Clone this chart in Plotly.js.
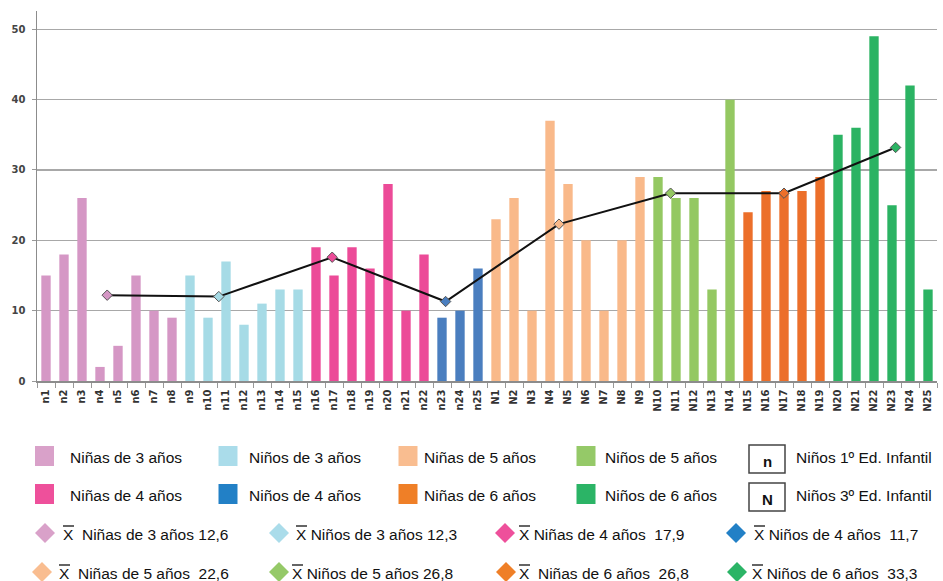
<!DOCTYPE html>
<html>
<head>
<meta charset="utf-8">
<script src="https://cdn.plot.ly/plotly-3.0.1.min.js"></script>
<style>
html,body{margin:0;padding:0;background:#fff;}
#chart{width:943px;height:581px;}
</style>
</head>
<body>
<div id="chart"></div>
<script>
// ---------- DATA ----------
const groupNames = ["Niñas de 3 años", "Niños de 3 años", "Niñas de 4 años", "Niños de 4 años",
                    "Niñas de 5 años", "Niños de 5 años", "Niñas de 6 años", "Niños de 6 años"];

const catNinas3 = ["n1","n2","n3","n4","n5","n6","n7","n8"];
const valNinas3 = [15, 18, 26, 2, 5, 15, 10, 9];

const catNinos3 = ["n9","n10","n11","n12","n13","n14","n15"];
const valNinos3 = [15, 9, 17, 8, 11, 13, 13];

const catNinas4 = ["n16","n17","n18","n19","n20","n21","n22"];
const valNinas4 = [19, 15, 19, 16, 28, 10, 18];

const catNinos4 = ["n23","n24","n25"];
const valNinos4 = [9, 10, 16];

const catNinas5 = ["N1","N2","N3","N4","N5","N6","N7","N8","N9"];
const valNinas5 = [23, 26, 10, 37, 28, 20, 10, 20, 29];

const catNinos5 = ["N10","N11","N12","N13","N14"];
const valNinos5 = [29, 26, 26, 13, 40];

const catNinas6 = ["N15","N16","N17","N18","N19"];
const valNinas6 = [24, 27, 27, 27, 29];

const catNinos6 = ["N20","N21","N22","N23","N24","N25"];
const valNinos6 = [35, 36, 49, 25, 42, 13];

// mean line: position along the category scale (0 = n1 ... 49 = N25) and plotted value
const meanPos = [3.4, 9.6, 15.9, 22.2, 28.5, 34.7, 41.0, 47.2];
const meanVal = [12.2, 12.0, 17.6, 11.3, 22.3, 26.7, 26.7, 33.2];
const meanLabels = ["Niñas de 3 años 12,6", "Niños de 3 años 12,3", "Niñas de 4 años  17,9", "Niños de 4 años  11,7",
                    "Niñas de 5 años  22,6", "Niños de 5 años 26,8", "Niñas de 6 años  26,8", "Niños de 6 años  33,3"];

const boxLabels = ["n", "N"];
const boxTexts = ["Niños 1º Ed. Infantil", "Niños 3º Ed. Infantil"];

// ---------- STYLE ----------
const barColors = ["#d597c5", "#a6dbe6", "#ec4b98", "#4a7ebf", "#f9b98a", "#94c862", "#ec6f2a", "#2bb363"];
const legColors = ["#d9a1c9", "#aadcea", "#ee509b", "#2280c6", "#f9bd90", "#95c968", "#ef7f27", "#2bb466"];

const groupCats = [catNinas3, catNinos3, catNinas4, catNinos4, catNinas5, catNinos5, catNinas6, catNinos6];
const groupVals = [valNinas3, valNinos3, valNinas4, valNinos4, valNinas5, valNinos5, valNinas6, valNinos6];
const allCats = [].concat(...groupCats);

const traces = groupCats.map((c, i) => ({
  type: "bar", x: c, y: groupVals[i], name: groupNames[i],
  marker: {color: barColors[i], line: {width: 0}},
  xaxis: "x", yaxis: "y", hoverinfo: "x+y"
}));

traces.push({
  type: "scatter", mode: "lines+markers", x: meanPos, y: meanVal,
  xaxis: "x2", yaxis: "y",
  line: {color: "#111", width: 2},
  marker: {symbol: "diamond", size: 8, color: barColors, line: {color: "#555", width: 1}},
  showlegend: false
});

// ---------- LEGEND (custom, pixel positions converted to paper) ----------
const L = 37, R = 937, T = 11, B = 381;
const px = x => (x - L) / (R - L);
const py = y => (B - y) / (B - T);

const shapes = [];
const annotations = [];
const legFont = {family: "Liberation Sans, Arial, sans-serif", size: 15.5, color: "#111"};

// squares rows
const sqRows = [[0, 1, 4, 5], [2, 3, 6, 7]];
const sqRowY = [456, 494];
const sqTxtY = [457, 495];
const sqX = [44.5, 228, 408, 586];
const sqTxtX = [68, 247, 422, 603];
sqRows.forEach((row, r) => {
  row.forEach((g, c) => {
    shapes.push({type: "rect", xref: "paper", yref: "paper",
      x0: px(sqX[c] - 9.5), x1: px(sqX[c] + 9.5), y0: py(sqRowY[r] - 10), y1: py(sqRowY[r] + 10),
      fillcolor: legColors[g], line: {width: 0}});
    annotations.push({xref: "paper", yref: "paper", x: px(sqTxtX[c]), y: py(sqTxtY[r]),
      xanchor: "left", yanchor: "middle", showarrow: false, text: groupNames[g], font: legFont});
  });
});
// n / N boxes
const boxY = [459, 497];
boxLabels.forEach((b, r) => {
  shapes.push({type: "rect", xref: "paper", yref: "paper",
    x0: px(749), x1: px(785), y0: py(boxY[r] - 14), y1: py(boxY[r] + 14),
    fillcolor: "#fff", line: {color: "#444", width: 1.5}});
  annotations.push({xref: "paper", yref: "paper", x: px(767), y: py(boxY[r] + 2),
    xanchor: "center", yanchor: "middle", showarrow: false, text: "<b>" + b + "</b>",
    font: {family: "Liberation Sans, Arial, sans-serif", size: 15, color: "#111"}});
  annotations.push({xref: "paper", yref: "paper", x: px(794), y: py(sqTxtY[r]),
    xanchor: "left", yanchor: "middle", showarrow: false, text: boxTexts[r], font: legFont});
});

// mean rows
const mRows = [[0, 1, 2, 3], [4, 5, 6, 7]];
const mRowY = [533, 572];
const mDiaX = [[45, 279, 505, 736], [42, 279, 506, 737]];
const mTxtX = [[64, 297, 520, 755], [60, 293, 520, 753]];
const mGap = [["\u00a0\u00a0", "\u00a0", "\u00a0", "\u00a0"], ["\u00a0\u00a0", "\u00a0", "\u00a0\u00a0", "\u00a0"]];
mRows.forEach((row, r) => {
  row.forEach((g, c) => {
    const cx = mDiaX[r][c], cy = mRowY[r];
    const d = 10;
    shapes.push({type: "path", xref: "paper", yref: "paper",
      path: `M ${px(cx - d)} ${py(cy)} L ${px(cx)} ${py(cy - d)} L ${px(cx + d)} ${py(cy)} L ${px(cx)} ${py(cy + d)} Z`,
      fillcolor: legColors[g], line: {width: 0}});
    const tx = mTxtX[r][c];
    annotations.push({xref: "paper", yref: "paper", x: px(tx - 3), y: py(cy + 1),
      xanchor: "left", yanchor: "middle", showarrow: false,
      text: "X" + mGap[r][c] + meanLabels[g].replace(/  /g, "\u00a0\u00a0"), font: legFont});
    shapes.push({type: "line", xref: "paper", yref: "paper",
      x0: px(tx - 1), x1: px(tx + 10), y0: py(cy - 7), y1: py(cy - 7),
      line: {color: "#111", width: 1.3}});
  });
});

const layout = {
  width: 943, height: 581,
  margin: {l: L, r: 943 - R, t: T, b: 581 - B, pad: 0},
  paper_bgcolor: "#fff", plot_bgcolor: "#fff",
  barmode: "overlay", bargap: 0.48,
  showlegend: false,
  font: {family: "Liberation Sans, Arial, sans-serif"},
  xaxis: {
    type: "category", categoryorder: "array", categoryarray: allCats,
    range: [-0.5, allCats.length - 0.5],
    tickangle: -90, tickson: "boundaries", ticks: "outside", ticklen: 5, tickcolor: "#999", tickwidth: 1,
    tickfont: {family: "DejaVu Sans", size: 10, color: "#333", weight: "bold"},
    ticklabelstandoff: 3,
    showline: true, linecolor: "#8c8c8c", linewidth: 1.5,
    showgrid: false, zeroline: false, fixedrange: true
  },
  xaxis2: {
    overlaying: "x", anchor: "y", range: [-0.5, allCats.length - 0.5],
    visible: false, showgrid: false, zeroline: false, fixedrange: true
  },
  yaxis: {
    range: [0, 52.6], dtick: 10, tick0: 0,
    showgrid: true, gridcolor: "#a8a8a8", gridwidth: 1.3,
    showline: true, linecolor: "#8c8c8c", linewidth: 1.5,
    ticks: "outside", ticklen: 4, tickcolor: "#999",
    tickfont: {family: "DejaVu Sans", size: 10, color: "#444", weight: "bold"},
    ticklabelstandoff: 4,
    zeroline: false, fixedrange: true
  },
  shapes: shapes,
  annotations: annotations
};

Plotly.newPlot("chart", traces, layout, {displayModeBar: false, staticPlot: true});
</script>
</body>
</html>
